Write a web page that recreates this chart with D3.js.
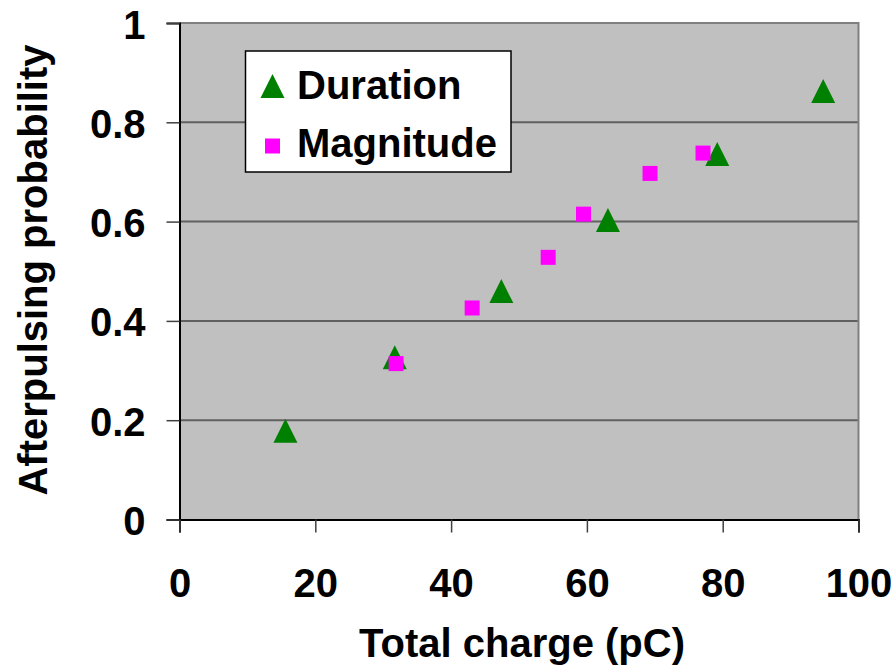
<!DOCTYPE html>
<html>
<head>
<meta charset="utf-8">
<script src="https://cdn.jsdelivr.net/npm/d3@7"></script>
<style>
  html, body { margin: 0; padding: 0; background: #ffffff; }
  svg { display: block; }
  text { font-family: "Liberation Sans", Arial, Helvetica, sans-serif; font-weight: bold; fill: #000; }
</style>
</head>
<body>
<svg id="chart" width="896" height="666"></svg>
<script>
// Afterpulsing probability versus total charge
const xTicks = [0, 20, 40, 60, 80, 100];
const xTickLabels = ["0", "20", "40", "60", "80", "100"];
const yTicks = [0, 0.2, 0.4, 0.6, 0.8, 1];
const yTickLabels = ["0", "0.2", "0.4", "0.6", "0.8", "1"];

const durationX = [15.6, 31.7, 47.4, 63.1, 79.2, 94.8];
const durationY = [0.179, 0.327, 0.460, 0.603, 0.736, 0.863];

const magnitudeX = [31.9, 43.1, 54.3, 59.5, 69.3, 77.1];
const magnitudeY = [0.314, 0.426, 0.528, 0.615, 0.697, 0.738];

const seriesNames = ["Duration", "Magnitude"];
const seriesColors = ["#008000", "#FF00FF"];

const svg = d3.select("#chart");
const plot = { left: 179.5, right: 858.5, top: 23, bottom: 519.5 };

const x = d3.scaleLinear().domain([0, 100]).range([plot.left, plot.right]);
const y = d3.scaleLinear().domain([0, 1]).range([plot.bottom, plot.top]);

// plot area
svg.append("rect")
  .attr("x", plot.left).attr("y", plot.top)
  .attr("width", plot.right - plot.left).attr("height", plot.bottom - plot.top)
  .attr("fill", "#C0C0C0");

// horizontal gridlines
svg.append("g").selectAll("line")
  .data(yTicks.filter(v => v > 0 && v < 1))
  .join("line")
  .attr("x1", plot.left).attr("x2", plot.right)
  .attr("y1", d => y(d)).attr("y2", d => y(d))
  .attr("stroke", "#606060").attr("stroke-width", 2);

// top and right border
svg.append("path")
  .attr("d", `M${plot.left},${plot.top}H${plot.right}V${plot.bottom}`)
  .attr("fill", "none").attr("stroke", "#808080").attr("stroke-width", 2);

// y axis
const yAxis = d3.axisLeft(y).tickValues(yTicks).tickSize(13)
  .tickFormat((d, i) => yTickLabels[i]);
const gy = svg.append("g").attr("transform", `translate(${plot.left},0)`).call(yAxis);
gy.select(".domain").attr("stroke", "#000").attr("stroke-width", 2);
gy.selectAll(".tick line").attr("stroke", "#404040").attr("stroke-width", 1.5);
gy.selectAll(".tick text")
  .attr("x", -34).attr("dy", null).attr("y", 15)
  .style("font-size", "40px").style("font-family", "'Liberation Sans', Arial, sans-serif")
  .style("font-weight", "bold").attr("fill", "#000");

// x axis
const xAxis = d3.axisBottom(x).tickValues(xTicks).tickSize(13)
  .tickFormat((d, i) => xTickLabels[i]);
const gx = svg.append("g").attr("transform", `translate(0,${plot.bottom})`).call(xAxis);
gx.select(".domain").attr("stroke", "#000").attr("stroke-width", 2);
gx.selectAll(".tick line").attr("stroke", "#404040").attr("stroke-width", 1.5);
gx.selectAll(".tick text")
  .attr("y", 77).attr("dy", null)
  .style("font-size", "40px").style("font-family", "'Liberation Sans', Arial, sans-serif")
  .style("font-weight", "bold").attr("fill", "#000");

// marker shapes
const triangle = (s) => `M0,${-s / 2}L${s / 2},${s / 2}L${-s / 2},${s / 2}Z`;
const square = (s) => `M${-s / 2},${-s / 2}h${s}v${s}h${-s}Z`;

const durationPts = durationX.map((v, i) => ({ x: v, y: durationY[i] }));
const magnitudePts = magnitudeX.map((v, i) => ({ x: v, y: magnitudeY[i] }));

svg.append("g").selectAll("path")
  .data(durationPts).join("path")
  .attr("transform", d => `translate(${x(d.x)},${y(d.y)})`)
  .attr("d", triangle(24))
  .attr("fill", seriesColors[0]);

svg.append("g").selectAll("path")
  .data(magnitudePts).join("path")
  .attr("transform", d => `translate(${x(d.x)},${y(d.y)})`)
  .attr("d", square(15))
  .attr("fill", seriesColors[1]);

// legend
const legend = svg.append("g");
legend.append("rect")
  .attr("x", 245.5).attr("y", 51).attr("width", 265.5).attr("height", 121)
  .attr("fill", "#fff").attr("stroke", "#000").attr("stroke-width", 1.5);
const legendRows = [
  { name: seriesNames[0], color: seriesColors[0], shape: triangle(24), cy: 86, base: 99 },
  { name: seriesNames[1], color: seriesColors[1], shape: square(15), cy: 146, base: 157 }
];
legendRows.forEach(r => {
  legend.append("path").attr("transform", `translate(272.5,${r.cy})`)
    .attr("d", r.shape).attr("fill", r.color);
  legend.append("text").attr("x", 297).attr("y", r.base)
    .style("font-size", "40px").text(r.name);
});

// axis titles
svg.append("text")
  .attr("x", (plot.left + plot.right) / 2 + 3).attr("y", 657)
  .attr("text-anchor", "middle").style("font-size", "40px")
  .text("Total charge (pC)");

svg.append("text")
  .attr("transform", "translate(47,270) rotate(-90)")
  .attr("text-anchor", "middle").style("font-size", "40px")
  .text("Afterpulsing probability");
</script>
</body>
</html>
